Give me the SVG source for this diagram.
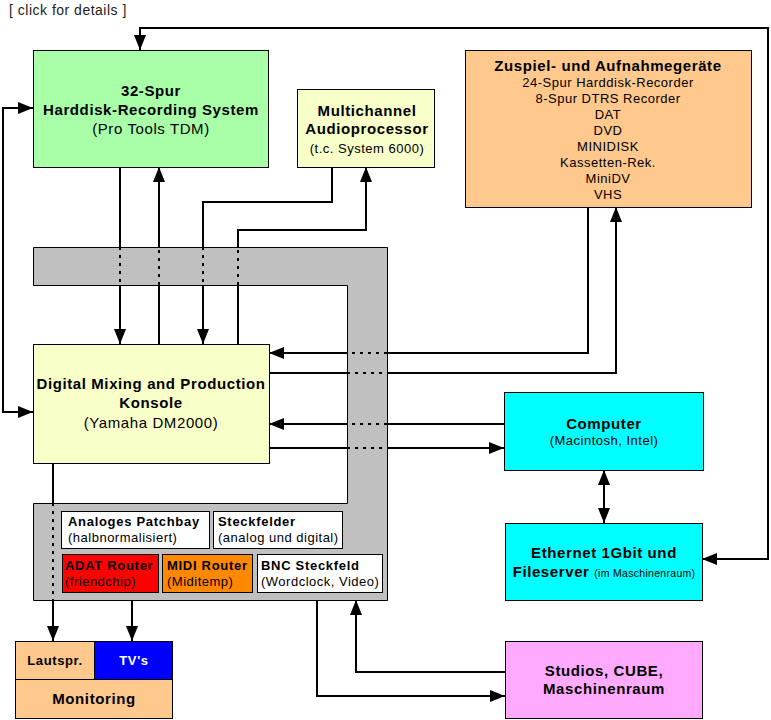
<svg xmlns="http://www.w3.org/2000/svg" width="771" height="720" viewBox="0 0 771 720">
<style>
text{font-family:"Liberation Sans",Arial,sans-serif;fill:#000}
.b{font-weight:bold;font-size:15px;letter-spacing:0.6px;text-anchor:middle}
.n{font-size:15px;letter-spacing:0.6px;text-anchor:middle}
.s{font-size:13px;letter-spacing:0.5px;text-anchor:middle}
.pb{font-weight:bold;font-size:13px;letter-spacing:0.7px}
.pn{font-size:13px;letter-spacing:0.5px}
.box{stroke:#000;stroke-width:1}
.c{fill:none;stroke:#000;stroke-width:2}
.a{marker-end:url(#ah)}
.aa{marker-start:url(#ah);marker-end:url(#ah)}
.d{fill:none;stroke:#000;stroke-width:2;stroke-dasharray:3 5}
</style>
<defs>
<marker id="ah" markerUnits="userSpaceOnUse" markerWidth="15" markerHeight="12" viewBox="0 0 15 12" refX="15" refY="6" orient="auto-start-reverse">
<path d="M0,0 L15,6 L0,12 Z" fill="#000"/>
</marker>
</defs>
<rect width="771" height="720" fill="#fff"/>
<text x="9" y="15" style="font-size:14px;letter-spacing:0.5px;fill:#222">[ click for details ]</text>

<g id="patchframe">
<path d="M33.5,247.5 H387.5 V600.5 H33.5 V503.5 H347.5 V285.5 H33.5 Z" fill="#c0c0c0" class="box"/>
</g>

<g id="connectors">
<path class="c" d="M120,167 V247"/><path class="d" d="M120,247 V285"/><path class="c a" d="M120,285 V344"/>
<path class="c" d="M159,344 V285"/><path class="d" d="M159,285 V247"/><path class="c a" d="M159,247 V167"/>
<path class="c" d="M332,167 V202 H203 V247"/><path class="d" d="M203,247 V285"/><path class="c a" d="M203,285 V344"/>
<path class="c" d="M238,344 V285"/><path class="d" d="M238,285 V247"/><path class="c a" d="M238,247 V230 H366 V167"/>
<path class="c" d="M588,207 V353 H387"/><path class="d" d="M387,353 H347"/><path class="c a" d="M347,353 H269"/>
<path class="c" d="M269,373 H347"/><path class="d" d="M347,373 H387"/><path class="c a" d="M387,373 H616 V207"/>
<path class="c" d="M504,424 H387"/><path class="d" d="M387,424 H347"/><path class="c a" d="M347,424 H269"/>
<path class="c" d="M269,448 H347"/><path class="d" d="M347,448 H387"/><path class="c a" d="M387,448 H504"/>
<path class="c aa" d="M604,470 V523"/>
<path class="c aa" d="M33,108 H3 V412 H33"/>
<path class="c aa" d="M140,50 V28 H768 V559 H702"/>
<path class="c" d="M53,463 V503"/><path class="d" d="M53,503 V600"/><path class="c a" d="M53,600 V641"/>
<path class="c a" d="M132,600 V641"/>
<path class="c a" d="M317,600 V696 H505"/>
<path class="c a" d="M505,672 H356 V600"/>
</g>

<g id="harddisk">
<rect x="33.5" y="50.5" width="235" height="117" fill="#a8ffa8" class="box"/>
<text class="b" x="151" y="96">32-Spur</text>
<text class="b" x="151" y="115">Harddisk-Recording System</text>
<text class="n" x="151" y="134">(Pro Tools TDM)</text>
</g>

<g id="audioprocessor">
<rect x="297.5" y="89.5" width="137" height="78" fill="#f8ffc8" class="box"/>
<text class="b" x="367" y="116">Multichannel</text>
<text class="b" x="367" y="134">Audioprocessor</text>
<text class="s" x="367" y="153">(t.c. System 6000)</text>
</g>

<g id="zuspiel">
<rect x="465.5" y="50.5" width="286" height="157" fill="#ffc88c" class="box"/>
<text class="b" x="608" y="71">Zuspiel- und Aufnahmegeräte</text>
<text class="s" x="608" y="87">24-Spur Harddisk-Recorder</text>
<text class="s" x="608" y="103">8-Spur DTRS Recorder</text>
<text class="s" x="608" y="119">DAT</text>
<text class="s" x="608" y="135">DVD</text>
<text class="s" x="608" y="151">MINIDISK</text>
<text class="s" x="608" y="167">Kassetten-Rek.</text>
<text class="s" x="608" y="183">MiniDV</text>
<text class="s" x="608" y="199">VHS</text>
</g>

<g id="mixer">
<rect x="33.5" y="344.5" width="236" height="119" fill="#f8ffc8" class="box"/>
<text class="b" x="151" y="389">Digital Mixing and Production</text>
<text class="b" x="151" y="408">Konsole</text>
<text class="n" x="151" y="428">(Yamaha DM2000)</text>
</g>

<g id="computer">
<rect x="504.5" y="392.5" width="199" height="78" fill="#00ffff" class="box"/>
<text class="b" x="604" y="429">Computer</text>
<text class="s" x="604" y="445">(Macintosh, Intel)</text>
</g>

<g id="ethernet">
<rect x="505.5" y="523.5" width="197" height="77" fill="#00ffff" class="box"/>
<text class="b" x="604" y="558">Ethernet 1Gbit und</text>
<text class="b" x="604" y="577">Fileserver <tspan style="font-weight:normal;font-size:10.5px;letter-spacing:0.3px">(im Maschinenraum)</tspan></text>
</g>

<g id="studios">
<rect x="505.5" y="641.5" width="197" height="77" fill="#ffaaff" class="box"/>
<text class="b" x="604" y="676">Studios, CUBE,</text>
<text class="b" x="604" y="694">Maschinenraum</text>
</g>

<g id="patchbay">
<rect x="61.5" y="511.5" width="148" height="37" fill="#fff" class="box"/>
<text class="pb" x="68" y="526">Analoges Patchbay</text>
<text class="pn" x="68" y="542">(halbnormalisiert)</text>
</g>
<g id="steckfelder">
<rect x="213.5" y="511.5" width="129" height="37" fill="#fff" class="box"/>
<text class="pb" x="218" y="526">Steckfelder</text>
<text class="pn" x="218" y="542">(analog und digital)</text>
</g>
<g id="adat">
<rect x="62.5" y="554.5" width="96" height="38" fill="#ff0000" class="box"/>
<text class="pb" x="65" y="570">ADAT Router</text>
<text class="pn" x="65" y="586">(friendchip)</text>
</g>
<g id="midi">
<rect x="162.5" y="554.5" width="90" height="38" fill="#ff8800" class="box"/>
<text class="pb" x="167" y="570">MIDI Router</text>
<text class="pn" x="167" y="586">(Miditemp)</text>
</g>
<g id="bnc">
<rect x="257.5" y="554.5" width="125" height="38" fill="#fff" class="box"/>
<text class="pb" x="261" y="570">BNC Steckfeld</text>
<text class="pn" x="261" y="586">(Wordclock, Video)</text>
</g>

<g id="lautsprecher">
<rect x="15.5" y="641.5" width="79" height="38" fill="#ffc88c" class="box"/>
<text class="b" x="55" y="665" style="font-size:13px">Lautspr.</text>
</g>
<g id="tvs">
<rect x="94.5" y="641.5" width="78" height="38" fill="#0000ff" class="box"/>
<text class="b" x="134" y="665" style="font-size:13px;fill:#fff">TV's</text>
</g>
<g id="monitoring">
<rect x="15.5" y="679.5" width="157" height="39" fill="#ffc88c" class="box"/>
<text class="b" x="94" y="704">Monitoring</text>
</g>
</svg>
